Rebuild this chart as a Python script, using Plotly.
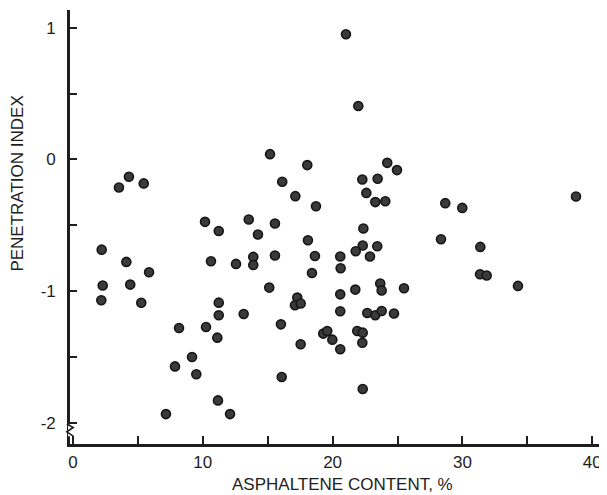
import plotly.graph_objects as go

# Asphaltene content (%) and penetration index
asphaltene_pct = [
    2.21, 3.54, 4.31, 5.45, 10.17, 11.23, 13.54, 14.25, 15.56, 15.18,
    16.12, 17.13, 18.05, 18.72, 18.10, 4.11, 5.86, 2.29, 4.41, 2.18,
    5.26, 10.63, 12.56, 13.89, 13.89, 15.56, 18.41, 18.64, 15.12, 11.23,
    11.23, 13.15, 17.28, 17.10, 17.54, 8.17, 10.25, 11.12, 16.02, 19.28,
    19.59, 19.98, 17.54, 9.17, 7.86, 9.50, 16.08, 11.17, 7.16, 12.10,
    24.21, 24.96, 22.29, 23.47, 22.60, 23.29, 24.06, 28.68, 29.99, 38.75,
    22.37, 28.35, 22.32, 21.78, 23.44, 22.88, 20.59, 20.62, 31.38, 31.36,
    31.87, 34.28, 20.59, 21.75, 23.67, 23.78, 25.50, 20.59, 22.67, 23.29,
    23.78, 24.73, 21.90, 22.32, 22.29, 20.59, 21.03, 21.98, 22.32,
]
penetration_index = [
    -0.685, -0.213, -0.132, -0.182, -0.474, -0.543, -0.456, -0.570, -0.486, 0.040,
    -0.170, -0.279, -0.043, -0.355, -0.613, -0.778, -0.856, -0.957, -0.950, -1.069,
    -1.088, -0.773, -0.793, -0.740, -0.801, -0.729, -0.862, -0.733, -0.973, -1.087,
    -1.183, -1.173, -1.049, -1.107, -1.094, -1.280, -1.272, -1.353, -1.252, -1.322,
    -1.302, -1.368, -1.403, -1.500, -1.571, -1.631, -1.652, -1.829, -1.933, -1.933,
    -0.026, -0.081, -0.152, -0.147, -0.254, -0.324, -0.317, -0.332, -0.368, -0.281,
    -0.524, -0.606, -0.653, -0.697, -0.659, -0.737, -0.737, -0.826, -0.664, -0.872,
    -0.881, -0.960, -1.024, -0.988, -0.942, -0.995, -0.978, -1.153, -1.166, -1.183,
    -1.150, -1.170, -1.302, -1.315, -1.391, -1.441, 0.950, 0.405, -1.743,
]

x_tick_vals = [0, 10, 20, 30, 40]
x_tick_text = ["0", "10", "20", "30", "40"]
y_tick_vals = [-2, -1, 0, 1]
y_tick_text = ["-2", "-1", "0", "1"]

FONT = "Liberation Sans, Arial, sans-serif"
INK = "#1e1e1e"

fig = go.Figure()
fig.add_trace(go.Scatter(
    x=asphaltene_pct,
    y=penetration_index,
    mode="markers",
    marker=dict(size=9, color="#3a3a3a", line=dict(color="#151515", width=1.6)),
    showlegend=False,
    hoverinfo="x+y",
))

# the page body has an 8px default margin, so the figure is sized 8px smaller
fig.update_layout(
    width=599,
    height=487,
    margin=dict(l=62, r=0, t=2, b=51),
    paper_bgcolor="white",
    plot_bgcolor="white",
    font=dict(family=FONT, size=17, color=INK),
    xaxis=dict(
        range=[-0.23, 41.14],
        tickvals=x_tick_vals,
        ticktext=x_tick_text,
        ticks="inside",
        ticklen=8,
        tickwidth=1.5,
        tickcolor=INK,
        minor=dict(dtick=5, tick0=0, ticks="inside", ticklen=8, tickwidth=1.5, tickcolor=INK),
        showline=True,
        linewidth=2.6,
        linecolor=INK,
        showgrid=False,
        zeroline=False,
        ticklabelstandoff=1,
        automargin=False,
        tickfont=dict(family=FONT, size=17, color=INK),
    ),
    yaxis=dict(
        range=[-2.16, 1.134],
        tickvals=y_tick_vals,
        ticktext=y_tick_text,
        ticks="inside",
        ticklen=7,
        tickwidth=1.5,
        tickcolor=INK,
        minor=dict(dtick=0.5, tick0=0, ticks="inside", ticklen=7, tickwidth=1.5, tickcolor=INK),
        showline=True,
        linewidth=2.6,
        linecolor=INK,
        showgrid=False,
        zeroline=False,
        ticklabelstandoff=8,
        automargin=False,
        tickfont=dict(family=FONT, size=17, color=INK),
    ),
    annotations=[
        dict(text="ASPHALTENE CONTENT, %", xref="paper", yref="paper",
             x=0.508, y=0, xanchor="center", yanchor="middle", yshift=-40,
             showarrow=False, font=dict(family=FONT, size=17, color=INK)),
        dict(text="PENETRATION INDEX", xref="paper", yref="paper",
             x=0, y=0.6, xanchor="center", yanchor="middle", xshift=-52,
             textangle=-90, showarrow=False,
             font=dict(family=FONT, size=17, color=INK)),
    ],
    shapes=[
        # axis break mark near the bottom of the y axis
        dict(type="line", xref="paper", yref="paper", x0=0, x1=0, y0=0.018, y1=0.045,
             line=dict(color="white", width=4)),
        dict(type="path", xref="paper", yref="paper",
             path="M -0.006,0.046 L 0.006,0.038 L -0.006,0.028 L 0.006,0.018",
             line=dict(color=INK, width=1.6)),
    ],
)

fig.write_html("out.html")
